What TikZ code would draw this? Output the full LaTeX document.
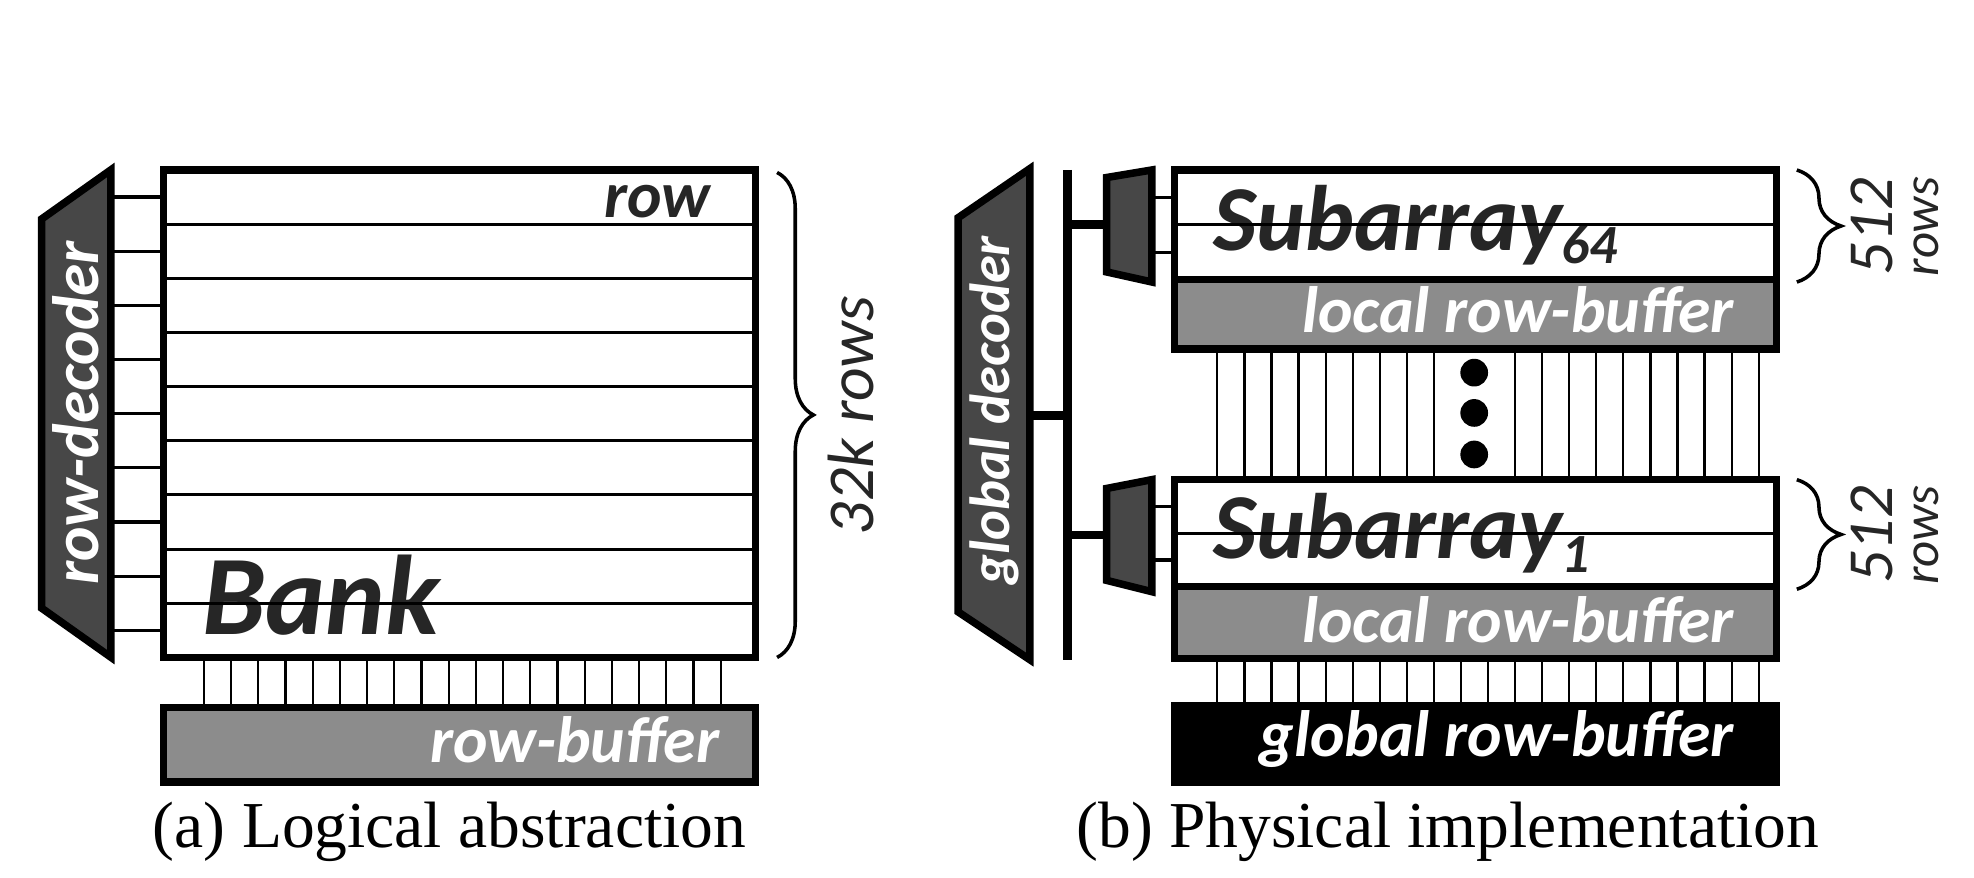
\documentclass[tikz,border=0pt]{standalone}
\usepackage{fontspec}
\setmainfont{Liberation Serif}
\newfontfamily\calibri{Carlito}
\usetikzlibrary{decorations.pathreplacing,calc}

\tikzset{
  blk/.style={draw=black,line width=1.7pt,inner sep=0pt,outer sep=0pt,anchor=north west},
  wire/.style={draw=black,line width=0.7pt},
  bitline/.style={draw=black,line width=0.5pt},
  bus/.style={draw=black,line width=2pt},
  dec/.style={fill=black!72,draw=black,line width=1.7pt,line join=miter},
  lbl/.style={text=white,inner sep=0pt,font=\calibri\bfseries\itshape\fontsize{#1}{#1}\selectfont},
  lbl/.default=14.8,
  dark/.style={text=black!85,inner sep=0pt,font=\calibri\bfseries\itshape\fontsize{#1}{#1}\selectfont},
  annot/.style={text=black!85,inner sep=0pt,font=\calibri\itshape\fontsize{#1}{#1}\selectfont},
  brc/.style={decorate,decoration={brace,amplitude=#1},line width=0.8pt},
  capt/.style={anchor=base,inner sep=0pt,font=\fontsize{14.8}{16}\selectfont},
}

\begin{document}
\begin{tikzpicture}[x=0.01cm,y=-0.01cm]
\useasboundingbox (0,0) rectangle (1568,697);

%%% (a) logical abstraction
\node[dark=25.6,anchor=base west] (banktxt) at (160,504) {Bank};
\node[blk,minimum width=4.70cm,minimum height=3.87cm] (bank) at (130,135) {};
\foreach \k in {1,...,8}
  \draw[wire] ($(bank.north west)!\k/9!(bank.south west)$) -- ($(bank.north east)!\k/9!(bank.south east)$);
\node[dark=14.8,anchor=base east] (rowtxt) at (565,173) {row};

% row decoder
\coordinate (rdec) at (88,135);
\draw[dec] (33,174) -- (rdec) -- (88,522) -- (33,483) -- cycle;
\node[lbl,rotate=90] (rdectxt) at (60,328) {row-decoder};
\foreach \k in {0,...,8}
  \draw[wire] ($(bank.north west)!{(\k+0.5)/9}!(bank.south west)$) coordinate (s) -- (s -| rdec);

% row buffer
\node[blk,fill=black!45,minimum width=4.70cm,minimum height=0.59cm] (rowbuf) at (130,562) {};
\node[lbl,anchor=base east] (rowbuftxt) at (572,606) {row-buffer};
\foreach \i in {0,...,19}
  \draw[bitline] ($(bank.south west)+({32+21.6*\i},0)$) -- ($(rowbuf.north west)+({32+21.6*\i},0)$);

\draw[brc=8.2pt] ($(bank.north east)+(17,2)$) -- ($(bank.south east)+(17,0)$);
\node[annot=14.8,rotate=90] (banksize) at (676,330) {32k rows};

\node[capt] (capa) at (357,673) {(a) Logical abstraction};

%%% (b) physical implementation
\node[dark=21,anchor=base west] (sub64txt) at (963,199) {Subarray\raisebox{-3pt}{\fontsize{12.5}{13}\selectfont 64}};
\node[dark=21,anchor=base west] (sub1txt) at (963,444) {Subarray\raisebox{-3pt}{\fontsize{12.5}{13}\selectfont 1}};
\node[blk,minimum width=4.78cm,minimum height=0.87cm] (sub64) at (933,135) {};
\node[blk,fill=black!45,minimum width=4.78cm,minimum height=0.55cm] (lrb64) at (933,222) {};
\node[blk,minimum width=4.78cm,minimum height=0.85cm] (sub1) at (933,381) {};
\node[blk,fill=black!45,minimum width=4.78cm,minimum height=0.57cm] (lrb1) at (933,466) {};
\node[blk,fill=black,minimum width=4.78cm,minimum height=0.60cm] (grb) at (933,561) {};
\draw[wire] (sub64.west) -- (sub64.east);
\draw[wire] (sub1.west) -- (sub1.east);
\node[lbl,anchor=base east] (lrb64txt) at (1378,264) {local row-buffer};
\node[lbl,anchor=base east] (lrb1txt) at (1378,510) {local row-buffer};
\node[lbl,anchor=base east] (grbtxt) at (1378,601) {global row-buffer};

% bitlines
\foreach \i in {0,...,20}{
  \ifnum\i=9\else\ifnum\i=10\else
  \draw[bitline] ($(lrb64.south west)+({34+21.5*\i},0)$) -- ($(sub1.north west)+({34+21.5*\i},0)$);
  \fi\fi
  \draw[bitline] ($(lrb1.south west)+({34+21.5*\i},0)$) -- ($(grb.north west)+({34+21.5*\i},0)$);
}
\foreach \y in {296,328,361}
  \fill (1171,\y) circle[radius=0.11cm];

% global decoder and bus
\coordinate (gdec) at (818,330);
\draw[dec] (761,173) -- (818,134) -- (818,524) -- (761,486) -- cycle;
\node[lbl=12.8,rotate=90] (gdectxt) at (790,326) {global decoder};
\coordinate (bustop) at (848,135);
\coordinate (busbot) at (848,524);
\draw[bus] (bustop) -- (busbot);
\draw[bus] (gdec) -- (gdec -| bustop);

% local decoders
\coordinate (ldec64) at (879,178);
\coordinate (ldec1) at (879,425);
\draw[dec] (879,141) -- (915,135) -- (915,224) -- (879,216) -- cycle;
\draw[dec] (879,388) -- (915,381) -- (915,470) -- (879,461) -- cycle;
\draw[bus] (ldec64 -| bustop) -- (ldec64);
\draw[bus] (ldec1 -| bustop) -- (ldec1);
\foreach \f in {0.25,0.75}{
  \draw[wire] ($(sub64.north west)!\f!(sub64.south west)$) coordinate (s) -- ++(-18,0);
  \draw[wire] ($(sub1.north west)!\f!(sub1.south west)$) coordinate (s) -- ++(-18,0);
}

\draw[brc=10pt] ($(sub64.north east)+(16,0)$) -- ($(sub64.south east)+(16,2)$);
\draw[brc=10pt] ($(sub1.north east)+(16,0)$) -- ($(sub1.south east)+(16,2)$);
\node[annot=14.5,rotate=90] (n64) at (1487,180) {512};
\node[annot=11.5,rotate=90] (r64) at (1530,180) {rows};
\node[annot=14.5,rotate=90] (n1) at (1487,425) {512};
\node[annot=11.5,rotate=90] (r1) at (1530,425) {rows};

\node[capt] (capb) at (1150,673) {(b) Physical implementation};
\end{tikzpicture}
\end{document}
